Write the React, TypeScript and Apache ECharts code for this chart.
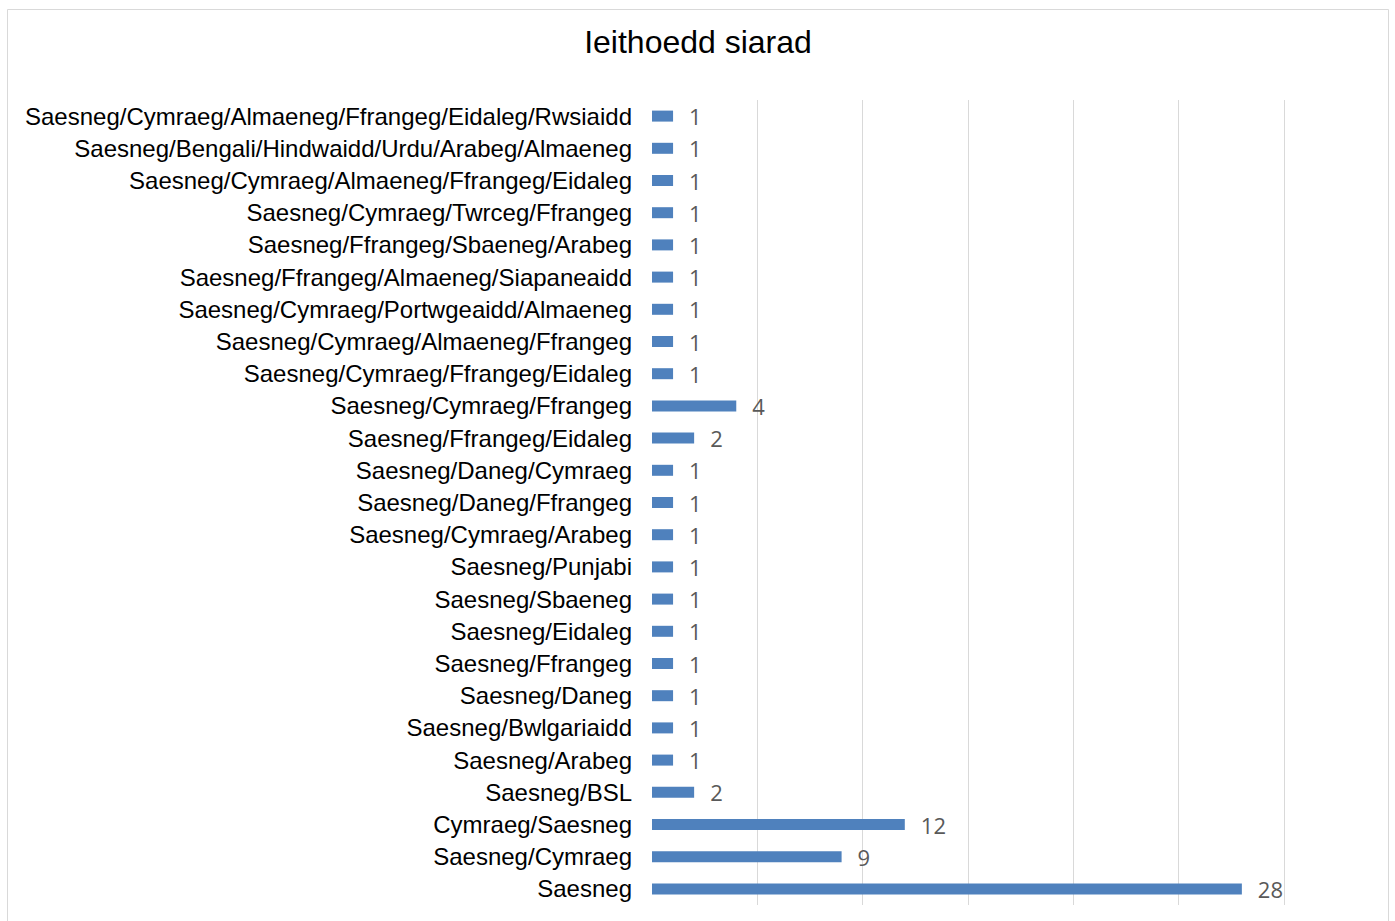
import React, { useEffect, useRef } from "react";
import * as echarts from "echarts";

const categories = [
  "Saesneg",
  "Saesneg/Cymraeg",
  "Cymraeg/Saesneg",
  "Saesneg/BSL",
  "Saesneg/Arabeg",
  "Saesneg/Bwlgariaidd",
  "Saesneg/Daneg",
  "Saesneg/Ffrangeg",
  "Saesneg/Eidaleg",
  "Saesneg/Sbaeneg",
  "Saesneg/Punjabi",
  "Saesneg/Cymraeg/Arabeg",
  "Saesneg/Daneg/Ffrangeg",
  "Saesneg/Daneg/Cymraeg",
  "Saesneg/Ffrangeg/Eidaleg",
  "Saesneg/Cymraeg/Ffrangeg",
  "Saesneg/Cymraeg/Ffrangeg/Eidaleg",
  "Saesneg/Cymraeg/Almaeneg/Ffrangeg",
  "Saesneg/Cymraeg/Portwgeaidd/Almaeneg",
  "Saesneg/Ffrangeg/Almaeneg/Siapaneaidd",
  "Saesneg/Ffrangeg/Sbaeneg/Arabeg",
  "Saesneg/Cymraeg/Twrceg/Ffrangeg",
  "Saesneg/Cymraeg/Almaeneg/Ffrangeg/Eidaleg",
  "Saesneg/Bengali/Hindwaidd/Urdu/Arabeg/Almaeneg",
  "Saesneg/Cymraeg/Almaeneg/Ffrangeg/Eidaleg/Rwsiaidd",
];

const values = [28, 9, 12, 2, 1, 1, 1, 1, 1, 1, 1, 1, 1, 1, 2, 4, 1, 1, 1, 1, 1, 1, 1, 1, 1];

const title = "Ieithoedd siarad";

export default function App() {
  const ref = useRef<HTMLDivElement>(null);
  useEffect(() => {
    if (!ref.current) return;
    const chart = echarts.init(ref.current, undefined, { renderer: "svg" });
    chart.setOption({
      animation: false,
      backgroundColor: "#ffffff",
      title: {
        text: title,
        left: 693,
        textAlign: "center",
        top: 21,
        textStyle: {
          fontFamily: "Liberation Sans, Arial, sans-serif",
          fontSize: 32,
          fontWeight: "normal",
          color: "#000000",
        },
      },
      graphic: [
        {
          type: "rect",
          shape: { x: 7.5, y: 9.5, width: 1381, height: 930 },
          style: { fill: "none", stroke: "#d9d9d9", lineWidth: 1 },
          silent: true,
        },
      ],
      grid: { left: 652, right: 111, top: 100, bottom: 16, containLabel: false },
      xAxis: {
        type: "value",
        min: 0,
        max: 30,
        interval: 5,
        axisLabel: { show: false },
        axisLine: { show: false },
        axisTick: { show: false },
        splitLine: { show: true, showMinLine: false, lineStyle: { color: "#d9d9d9", width: 1 } },
      },
      yAxis: {
        type: "category",
        data: categories,
        axisLine: { show: false },
        axisTick: { show: false },
        axisLabel: {
          margin: 20,
          fontFamily: "Liberation Sans, Arial, sans-serif",
          fontSize: 24,
          color: "#000000",
        },
      },
      series: [
        {
          type: "bar",
          data: values,
          barWidth: 11,
          itemStyle: { color: "#4f81bd" },
          label: {
            show: true,
            position: "right",
            distance: 16,
            fontFamily: "Open Sans, Noto Sans, sans-serif",
            fontSize: 22,
            color: "#595959",
          },
        },
      ],
    });
    return () => chart.dispose();
  }, []);
  return (
    <div
      ref={ref}
      style={{ position: "fixed", left: 0, top: 0, width: 1395, height: 921 }}
    />
  );
}
